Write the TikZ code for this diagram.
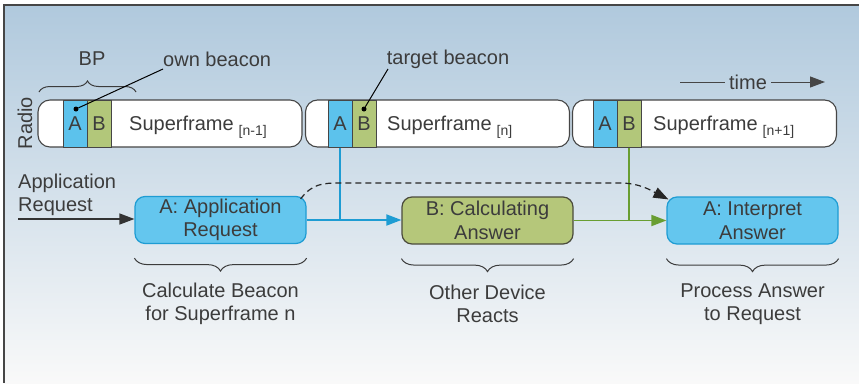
\documentclass[tikz,border=0pt]{standalone}
\usepackage{fontspec}
\setmainfont{Liberation Sans}
\usetikzlibrary{arrows.meta,decorations.pathreplacing}
\usepackage{xcolor}
\definecolor{bgtop}{RGB}{176,201,221}
\definecolor{bgmid}{RGB}{222,230,237}
\definecolor{bgbot}{RGB}{249,249,249}
\definecolor{inkgray}{RGB}{60,60,60}
\definecolor{framegray}{RGB}{70,70,70}
\definecolor{slotblue}{RGB}{92,194,236}
\definecolor{slotgreen}{RGB}{178,199,122}
\definecolor{taskblue}{RGB}{100,198,238}
\definecolor{taskblueline}{RGB}{30,156,211}
\definecolor{taskgreen}{RGB}{181,199,122}
\definecolor{taskgreenline}{RGB}{75,75,60}
\definecolor{flowgreen}{RGB}{105,158,50}
\newcommand{\txtsize}{\fontsize{20}{23.5}\selectfont}
\newcommand{\subsize}{\fontsize{14}{16}\selectfont}
\tikzset{
  txt/.style = {font=\txtsize, text=inkgray, inner sep=0pt},
  frame_bar/.style = {draw=framegray, fill=white, line width=1.1pt,
    rounded corners=12pt, minimum width=264pt, minimum height=47pt},
  slot_a/.style = {txt, draw=framegray, fill=slotblue, line width=1pt,
    minimum width=24pt, minimum height=47pt},
  slot_b/.style = {slot_a, fill=slotgreen},
  task_a/.style = {txt, align=center, draw=taskblueline, fill=taskblue,
    line width=1.2pt, rounded corners=10pt, minimum width=171pt,
    minimum height=47pt},
  task_b/.style = {task_a, draw=taskgreenline, fill=taskgreen},
  dot/.style = {circle, fill=black, inner sep=0pt, minimum size=5pt},
  pointer/.style = {draw=black, line width=1pt},
  brace_up/.style = {draw=inkgray, line width=1pt, decorate,
    decoration={brace, amplitude=11pt}},
  brace_dn/.style = {brace_up, decoration={brace, mirror, amplitude=13pt}},
  blue_flow/.style = {draw=taskblueline, line width=1.8pt},
  green_flow/.style = {draw=flowgreen, line width=1.8pt},
}

\begin{document}
\begin{tikzpicture}[x=1pt, y=-1pt, >={Triangle[length=15pt,width=11pt]}]
  \useasboundingbox (0,0) rectangle (859,383);
  % panel
  \shade[top color=bgtop, middle color=bgmid, bottom color=bgbot]
    (4,5) rectangle (859,383);
  \draw[framegray, line width=1.5pt] (4,383) -- (4,5) -- (859,5);

  % radio timeline
  \node[txt, rotate=90] (radio_lbl) at (25,123) {Radio};
  \node[frame_bar] (sf1) at (170,123.5) {};
  \node[frame_bar] (sf2) at (437.5,123.5) {};
  \node[frame_bar] (sf3) at (704.5,123.5) {};
  \node[slot_a] (s1a) at (75,123.5) {A};
  \node[slot_b] (s1b) at (99,123.5) {B};
  \node[slot_a] (s2a) at (340,123.5) {A};
  \node[slot_b] (s2b) at (364,123.5) {B};
  \node[slot_a] (s3a) at (605,123.5) {A};
  \node[slot_b] (s3b) at (629,123.5) {B};
  \node[txt, anchor=base west] (sf1_lbl) at (129,130)
    {Superframe\hspace{5pt}\raisebox{-5pt}{\subsize[n-1]}};
  \node[txt, anchor=base west] (sf2_lbl) at (387,130)
    {Superframe\hspace{5pt}\raisebox{-5pt}{\subsize[n]}};
  \node[txt, anchor=base west] (sf3_lbl) at (653,130)
    {Superframe\hspace{5pt}\raisebox{-5pt}{\subsize[n+1]}};

  % beacon pointers
  \node[txt] (bp_lbl) at (92,59) {BP};
  \coordinate (bp_l) at (39,92);
  \coordinate (bp_r) at (136,92);
  \draw[brace_up] (bp_l) -- (bp_r);
  \node[txt, anchor=west] (own_lbl) at (163,59) {own beacon};
  \node[dot] (own_dot) at (76,109) {};
  \coordinate (own_end) at (163,69);
  \draw[pointer] (own_dot) -- (own_end);
  \node[txt] (tgt_lbl) at (448,59) {target beacon};
  \node[dot] (tgt_dot) at (364,109) {};
  \coordinate (tgt_end) at (388,69);
  \draw[pointer] (tgt_dot) -- (tgt_end);

  % time
  \node[txt, inner sep=4pt] (time_lbl) at (748,82) {time};
  \coordinate (time_start) at (680,82);
  \coordinate (time_end) at (825,82);
  \draw[framegray, line width=1pt] (time_start) -- (time_lbl.west);
  \draw[framegray, line width=1pt, ->] (time_lbl.east) -- (time_end);

  % tasks
  \node[txt, anchor=west, align=left] (app_lbl) at (18,195)
    {Application\\Request};
  \coordinate (app_in) at (18,219);
  \node[task_a] (a1) at (220.5,220) {A: Application\\Request};
  \node[task_b] (b1) at (487.5,220.5) {B: Calculating\\Answer};
  \node[task_a] (a2) at (752.5,220.5) {A: Interpret\\Answer};

  \draw[black!80, line width=1.4pt, ->] (app_in) -- (app_in -| a1.west);
  \draw[blue_flow] (s2a.south) -- (s2a.south |- a1.east);
  \draw[blue_flow, ->] (a1.east) -- (a1.east -| b1.west);
  \draw[green_flow] (s3b.south) -- (s3b.south |- b1.east);
  \draw[green_flow, ->] (b1.east) -- (a2.west);

  \coordinate (dash_l) at (340,183);
  \coordinate (dash_r) at (620,183);
  \draw[black!85, line width=1.2pt, dash pattern=on 6pt off 4pt, ->]
    ([xshift=-6pt,yshift=-3pt]a1.north east)
    .. controls (312,184) and (322,183) .. (dash_l) -- (dash_r)
    .. controls (640,183) and (652,191) .. ([xshift=2pt,yshift=-3pt]a2.north west);

  % braces and captions
  \draw[brace_dn] ([yshift=-14pt]a1.south west) -- ([yshift=-14pt]a1.south east);
  \draw[brace_dn] ([yshift=-14pt]b1.south west) -- ([yshift=-14pt]b1.south east);
  \draw[brace_dn] ([yshift=-14pt]a2.south west) -- ([yshift=-14pt]a2.south east);
  \node[txt, align=center] (cap1) at (220.5,304)
    {Calculate Beacon\\for Superframe n};
  \node[txt, align=center] (cap2) at (487.5,304) {Other Device\\Reacts};
  \node[txt, align=center] (cap3) at (752.5,304) {Process Answer\\to Request};
\end{tikzpicture}
\end{document}
